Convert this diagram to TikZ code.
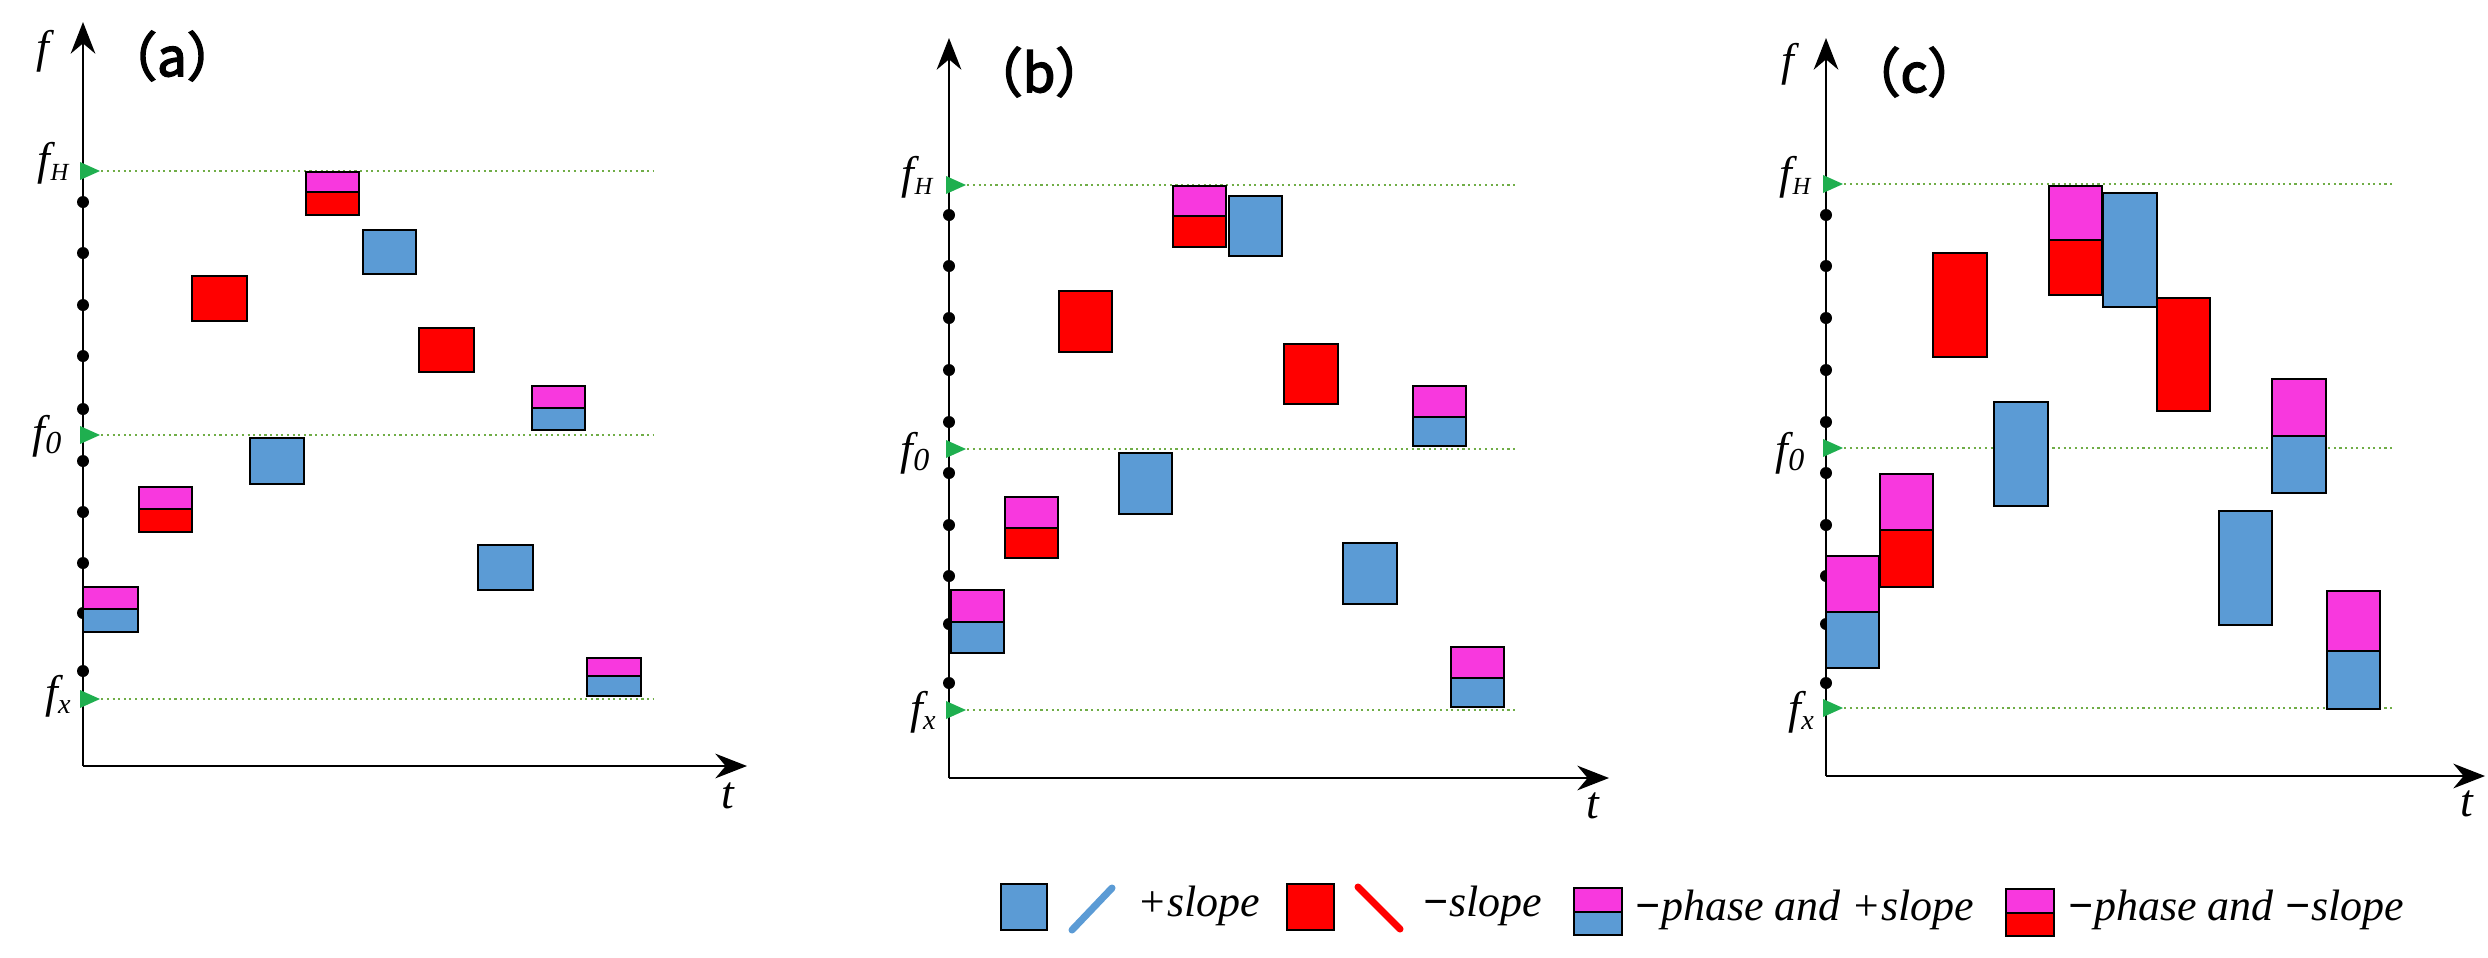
\documentclass[tikz,border=0pt]{standalone}
\usepackage{fontspec}
\setmainfont{Liberation Serif}
\newfontfamily\cjk[FakeBold=3]{Noto Sans CJK SC}
\usetikzlibrary{arrows.meta}
\definecolor{bblue}{HTML}{5B9BD5}
\definecolor{rred}{HTML}{FF0000}
\definecolor{mag}{HTML}{F838DE}
\definecolor{ggreen}{HTML}{70AD47}
\definecolor{garr}{HTML}{1FAF4F}
\tikzset{
 boxline/.style={draw=black,line width=0.6pt},
 axisline/.style={line width=0.75pt,-{Stealth[length=9pt,width=7pt]}},
 guide/.style={ggreen,line width=0.6pt,densely dotted},
 lbl/.style={font=\fontsize{13}{13}\selectfont\itshape,inner sep=0pt},
 plbl/.style={font=\cjk\fontsize{15}{15}\selectfont,inner sep=0pt},
 leg/.style={font=\fontsize{12.5}{13}\selectfont\itshape,inner sep=0pt,anchor=west},
}
\newcommand\solidbox[5]{\draw[boxline,fill=#1] (#2,#3) rectangle (#4,#5);}
\newcommand\splitbox[6]{\draw[boxline,fill=mag] (#2,#3) rectangle (#4,#6);\draw[boxline,fill=#1] (#2,#6) rectangle (#4,#5);}
\newcommand\garrowhead[2]{\fill[garr] (#1-3,#2-9) -- (#1+17,#2) -- (#1-3,#2+9) -- cycle;}
\begin{document}
\begin{tikzpicture}[x=0.01cm,y=-0.01cm]
\useasboundingbox (0,0) rectangle (2488,957);
% ===== panel a =====
\coordinate (ao) at (83,766);
\coordinate (atop) at (83,22);
\coordinate (aend) at (747,766);
\draw[axisline] (ao) -- (atop);
\draw[axisline] (ao) -- (aend);
\node[lbl] (af) at (43,51) {f};
\node[plbl] (alab) at (172,56) {（a）};
\node[lbl] (at) at (728,796) {t};
\foreach \y in {202,253,305,356,409,461,512,563,613,671} \fill (83,\y) circle (6);
\foreach \y in {171,435,699} {\draw[guide] (90,\y) -- (653,\y); \garrowhead{83}{\y}}
\node[lbl] (afH) at (54,163) {f\textsubscript{\fontsize{7}{7}\selectfont H}};
\node[lbl] (af0) at (48,436) {f\textsubscript{0}};
\node[lbl] (afX) at (59,696) {f\textsubscript{\fontsize{8}{8}\selectfont x}};
\splitbox{rred}{306}{172}{359}{215}{192}
\solidbox{bblue}{363}{230}{416}{274}
\solidbox{rred}{192}{276}{247}{321}
\solidbox{rred}{419}{328}{474}{372}
\splitbox{bblue}{532}{386}{585}{430}{408}
\solidbox{bblue}{250}{438}{304}{484}
\splitbox{rred}{139}{487}{192}{532}{509}
\solidbox{bblue}{478}{545}{533}{590}
\splitbox{bblue}{83}{587}{138}{632}{609}
\splitbox{bblue}{587}{658}{641}{696}{676}
% ===== panel b =====
\coordinate (bo) at (949,778);
\coordinate (btop) at (949,38);
\coordinate (bend) at (1609,778);
\draw[axisline] (bo) -- (btop);
\draw[axisline] (bo) -- (bend);
\node[plbl] (blab) at (1039,72) {（b）};
\node[lbl] (bt) at (1593,806) {t};
\foreach \y in {215,266,318,370,422,473,525,576,624,683} \fill (949,\y) circle (6);
\foreach \y in {185,449,710} {\draw[guide] (956,\y) -- (1516,\y); \garrowhead{949}{\y}}
\node[lbl] (bfH) at (918,177) {f\textsubscript{\fontsize{7}{7}\selectfont H}};
\node[lbl] (bf0) at (916,453) {f\textsubscript{0}};
\node[lbl] (bfX) at (924,712) {f\textsubscript{\fontsize{8}{8}\selectfont x}};
\splitbox{rred}{1173}{186}{1226}{247}{216}
\solidbox{bblue}{1229}{196}{1282}{256}
\solidbox{rred}{1059}{291}{1112}{352}
\solidbox{rred}{1284}{344}{1338}{404}
\splitbox{bblue}{1413}{386}{1466}{446}{417}
\solidbox{bblue}{1119}{453}{1172}{514}
\splitbox{rred}{1005}{497}{1058}{558}{528}
\solidbox{bblue}{1343}{543}{1397}{604}
\splitbox{bblue}{951}{590}{1004}{653}{622}
\splitbox{bblue}{1451}{647}{1504}{707}{678}
% ===== panel c =====
\coordinate (co) at (1826,776);
\coordinate (ctop) at (1826,38);
\coordinate (cend) at (2485,776);
\draw[axisline] (co) -- (ctop);
\draw[axisline] (co) -- (cend);
\node[lbl] (cf) at (1788,64) {f};
\node[plbl] (clab) at (1914,72) {（c）};
\node[lbl] (ct) at (2467,804) {t};
\foreach \y in {215,266,318,370,422,473,525,576,624,683} \fill (1826,\y) circle (6);
\foreach \y in {184,448,708} {\draw[guide] (1833,\y) -- (2394,\y); \garrowhead{1826}{\y}}
\node[lbl] (cfH) at (1796,177) {f\textsubscript{\fontsize{7}{7}\selectfont H}};
\node[lbl] (cf0) at (1791,453) {f\textsubscript{0}};
\node[lbl] (cfX) at (1802,712) {f\textsubscript{\fontsize{8}{8}\selectfont x}};
\splitbox{bblue}{1826}{556}{1879}{668}{612}
\splitbox{rred}{1880}{474}{1933}{587}{530}
\solidbox{rred}{1933}{253}{1987}{357}
\solidbox{bblue}{1994}{402}{2048}{506}
\splitbox{rred}{2049}{186}{2102}{295}{240}
\solidbox{bblue}{2103}{193}{2157}{307}
\solidbox{rred}{2157}{298}{2210}{411}
\splitbox{bblue}{2272}{379}{2326}{493}{436}
\solidbox{bblue}{2219}{511}{2272}{625}
\splitbox{bblue}{2327}{591}{2380}{709}{651}
% ===== legend =====
\solidbox{bblue}{1001}{884}{1047}{930}
\draw[bblue,line width=2pt,line cap=round] (1072,930) -- (1112,888);
\node[leg] (l1) at (1137,906) {+slope};
\solidbox{rred}{1287}{884}{1334}{930}
\draw[rred,line width=2pt,line cap=round] (1358,887) -- (1400,929);
\node[leg] (l2) at (1422,906) {\textbf{−}slope};
\splitbox{bblue}{1574}{888}{1622}{935}{912}
\node[leg] (l3) at (1634,910) {\textbf{−}phase and +slope};
\splitbox{rred}{2006}{889}{2054}{936}{913}
\node[leg] (l4) at (2067,910) {\textbf{−}phase and \textbf{−}slope};
\end{tikzpicture}
\end{document}
